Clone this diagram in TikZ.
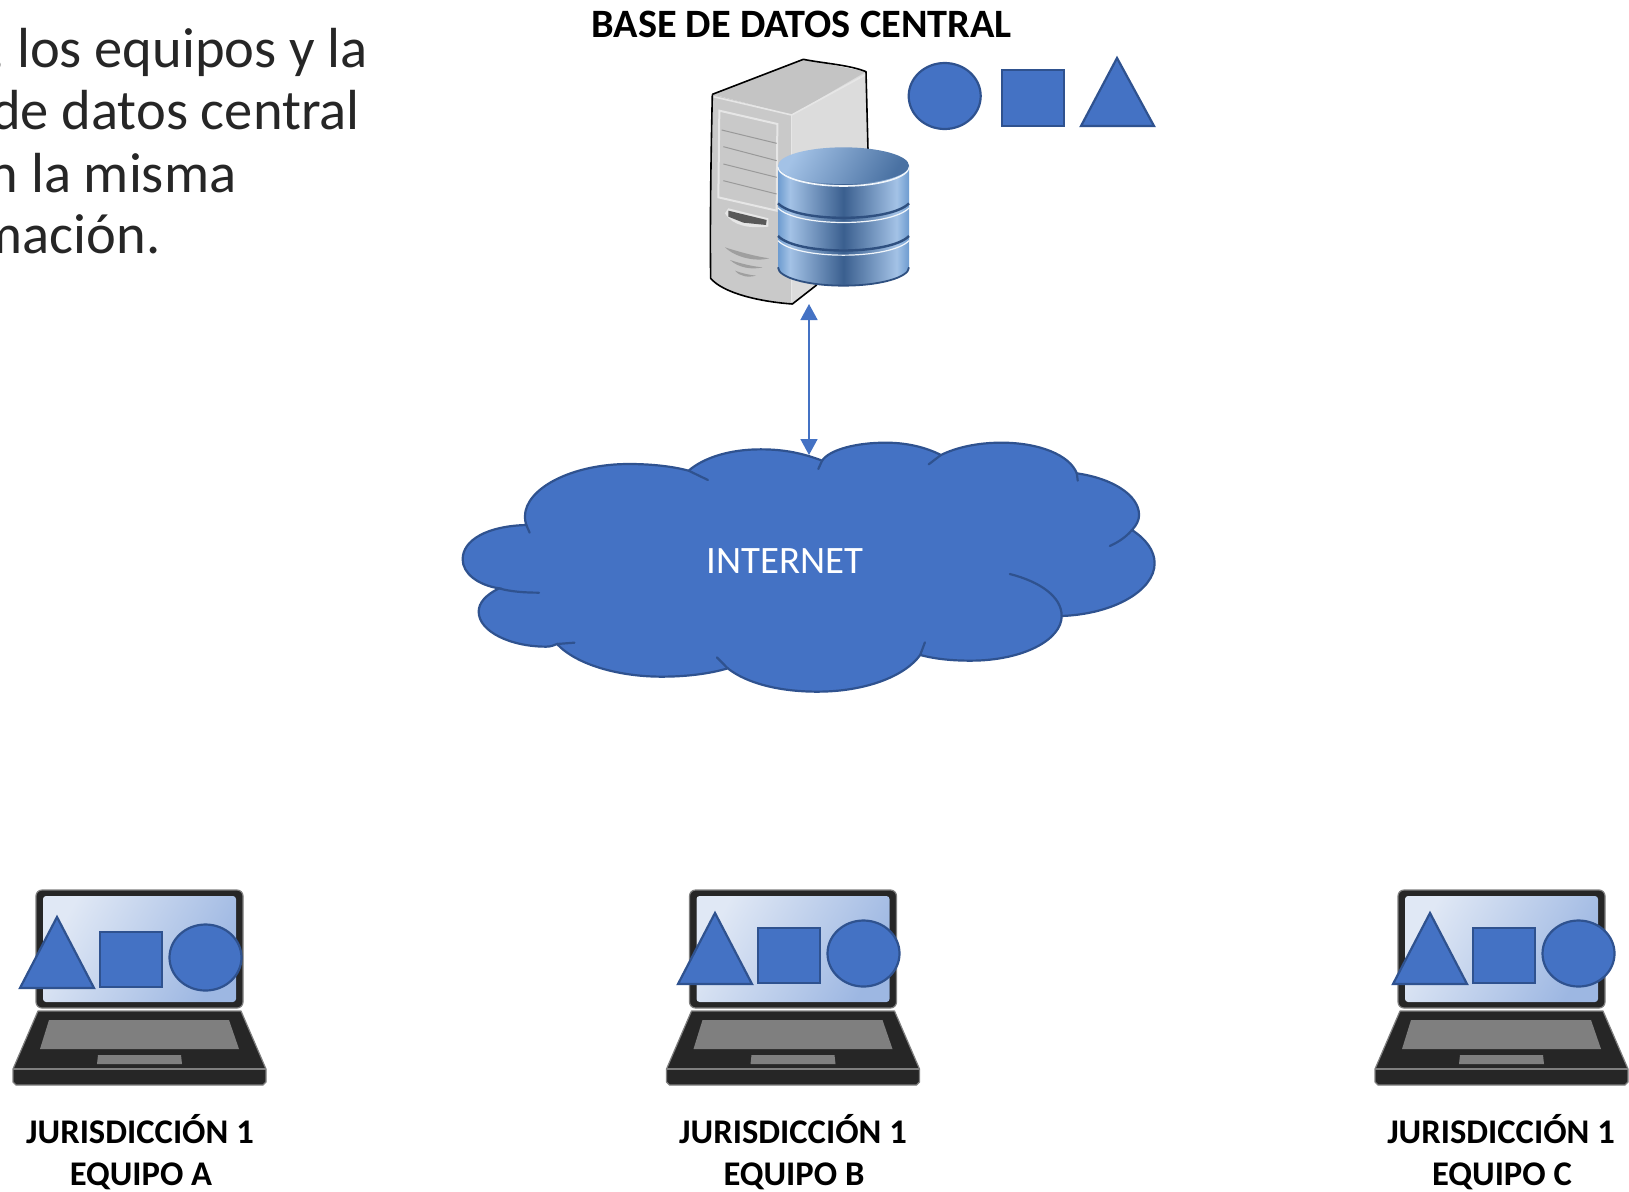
\documentclass[tikz,border=0pt]{standalone}
\usepackage{fontspec}
\setmainfont{Carlito}
\usetikzlibrary{arrows.meta}
\definecolor{shapefill}{HTML}{4472C4}
\definecolor{shapeline}{HTML}{2F528F}
\definecolor{lapdark}{HTML}{262626}
\definecolor{lapgray}{HTML}{7F7F7F}
\definecolor{srvfront}{HTML}{C9C9C9}
\definecolor{srvside}{HTML}{DCDCDC}
\definecolor{srvtop}{HTML}{C4C4C4}
\definecolor{srvlight}{HTML}{E6E6E6}
\definecolor{cylA}{HTML}{6E9CD0}
\definecolor{cylB}{HTML}{A3C2E6}
\definecolor{cylC}{HTML}{3A5F8F}
\definecolor{cylband}{HTML}{2F5080}
\definecolor{scrA}{HTML}{E0E8F5}
\definecolor{scrB}{HTML}{9DB7E2}
\pgfdeclarehorizontalshading{cylbody}{100bp}{
  color(0bp)=(cylA); color(25bp)=(cylA); color(29.5bp)=(cylB);
  color(50bp)=(cylC); color(70.3bp)=(cylB); color(75bp)=(cylA); color(100bp)=(cylA)}
\tikzset{
  flat/.style={fill=shapefill,draw=shapeline,line width=2.2pt,line join=miter},
  title/.style={font=\fontsize{40.3}{40.3}\selectfont\bfseries,inner sep=0pt,anchor=base},
  label/.style={font=\fontsize{34.6}{34.6}\selectfont\bfseries,inner sep=0pt,anchor=base},
  bigtext/.style={font=\fontsize{56.5}{56.5}\selectfont,inner sep=0pt,anchor=base west,text=black!85},
  cloudline/.style={draw=shapeline,line width=2.2pt},
  srvline/.style={draw=black,line width=1.6pt,line join=round},
  link/.style={draw=shapefill,line width=1.5pt,{Triangle[length=16pt,width=17pt]}-{Triangle[length=16pt,width=17pt]}}
}
\newcommand{\threeshapes}[2]{%
  \begin{scope}[shift={(#1,#2)}]
    \draw[flat] (57,917) -- (94,988) -- (20,988) -- cycle;
    \draw[flat] (100,932) rectangle (162,987);
    \draw[flat] (205.5,957.5) ellipse [x radius=36,y radius=33];
  \end{scope}}
\newcommand{\laptopicon}[1]{%
  \begin{scope}[shift={(#1,0)}]
    \fill[lapdark,draw=lapgray,line width=1.2pt,rounded corners=6pt] (36,890) rectangle (243,1008);
    \fill[left color=scrA,right color=scrB,shading angle=60,rounded corners=3pt] (43,896) rectangle (236,1002);
    \fill[lapdark,draw=lapgray,line width=1.2pt,line join=round] (38,1011) -- (241,1011) -- (266,1069) -- (266,1082) -- (263,1085) -- (16,1085) -- (13,1082) -- (13,1069) -- cycle;
    \draw[lapgray,line width=1.2pt] (13,1069) -- (266,1069);
    \fill[lapgray] (49,1020) -- (229,1020) -- (239,1049) -- (40,1049) -- cycle;
    \fill[lapgray] (98,1055) -- (181,1055) -- (182,1064) -- (97,1064) -- cycle;
  \end{scope}}
\begin{document}
\begin{tikzpicture}[x=1pt,y=-1pt]
\useasboundingbox (0,0) rectangle (1629,1191);
\clip (0,0) rectangle (1629,1191);

% text at the upper left, cut by the page edge
\node[bigtext] (line1) at (-10,67) {, los equipos y la};
\node[bigtext] (line2) at (-9,129) {de datos central};
\node[bigtext] (line3) at (-11.5,192) {n la misma};
\node[bigtext] (line4) at (-22.5,253) {mación.};

\node[title] (dbtitle) at (801.5,37) {BASE DE DATOS CENTRAL};

% server
\begin{scope}[shift={(680,0)},scale=1/3]
  \fill[srvside] (370,178) -- (558,215) -- (564,450) -- (564,700) -- (410,855) -- (337,912) -- (335,345) -- cycle;
  \fill[srvfront] (97,283) -- (335,345) -- (337,912) .. controls (240,905) and (130,880) .. (92,835) -- (92,600) -- cycle;
  \fill[srvtop] (97,283) -- (370,178) -- (558,215) -- (335,345) -- cycle;
  \draw[srvlight,line width=1.6pt] (100,290) -- (335,345) -- (555,225);
  \draw[srvlight,line width=1.6pt] (335,345) -- (335,905);
  \fill[srvfront,draw=srvlight,line width=2pt] (118,332) -- (292,372) -- (290,632) -- (115,592) -- cycle;
  \draw[gray!80,line width=1pt] (125,390) -- (290,430) (130,440) -- (290,482) (130,492) -- (290,532) (130,542) -- (290,582);
  \fill[srvlight] (135,640) .. controls (160,680) and (210,685) .. (265,680) -- (265,655) -- (145,625) -- cycle;
  \fill[black!65] (145,632) -- (260,660) -- (258,675) -- (190,668) -- (145,650) -- cycle;
  \fill[gray!75] (135,742) .. controls (175,755) and (230,770) .. (268,775) .. controls (230,785) and (170,775) .. (135,742) -- cycle;
  \fill[gray!75] (150,780) .. controls (180,790) and (220,800) .. (248,802) .. controls (215,810) and (175,803) .. (150,780) -- cycle;
  \fill[gray!75] (165,812) .. controls (185,820) and (210,825) .. (228,827) .. controls (205,833) and (180,830) .. (165,812) -- cycle;
  \draw[srvline] (97,283) -- (370,178) .. controls (430,190) and (510,195) .. (558,215) -- (564,450);
  \draw[srvline] (97,283) .. controls (92,500) and (90,700) .. (92,835) .. controls (130,880) and (240,905) .. (337,912) -- (410,855);
  % database cylinder
  \shade[shading=cylbody] (294,497) -- (294,800) arc [start angle=180,end angle=0,x radius=196.5,y radius=58] -- (687,497) -- cycle;
  \draw[white!85!cylB,line width=1.2pt] (294,624) .. controls (350,682) and (630,682) .. (687,624);
  \draw[white!85!cylB,line width=1.2pt] (294,722) .. controls (350,780) and (630,780) .. (687,722);
  \draw[cylband,line width=2.4pt] (294,610) .. controls (350,668) and (630,668) .. (687,610);
  \draw[cylband,line width=2.4pt] (294,708) .. controls (350,766) and (630,766) .. (687,708);
  \draw[cylband,line width=1.8pt] (294,802) arc [start angle=180,end angle=0,x radius=196.5,y radius=55];
  \draw[white!85!cylB,line width=1.6pt] (294,500) arc [start angle=180,end angle=0,x radius=196.5,y radius=58];
  \shade[left color=cylB,right color=cylC!70!cylA,shading angle=60] (490.5,497) ellipse [x radius=196.5,y radius=55];
\end{scope}

% shapes beside the server
\draw[flat] (944.7,96) ellipse [x radius=36,y radius=33];
\draw[flat] (1002,70) rectangle (1064,126);
\draw[flat] (1117,58) -- (1154,126) -- (1081,126) -- cycle;

% cloud
\begin{scope}[shift={(440,420)},xscale=.4717,yscale=1/3]
  \path[fill=shapefill,cloudline] (183,315) .. controls (100,318) and (48,360) .. (48,418) .. controls (48,460) and (80,495) .. (125,505)
    .. controls (97,525) and (82,548) .. (82,575) .. controls (82,635) and (150,680) .. (225,680) .. controls (235,680) and (242,676) .. (248,672)
    .. controls (290,735) and (380,770) .. (470,770) .. controls (520,770) and (570,762) .. (610,745)
    .. controls (650,790) and (720,815) .. (800,815) .. controls (900,815) and (985,770) .. (1018,705)
    .. controls (1050,717) and (1085,722) .. (1125,722) .. controls (1235,722) and (1318,660) .. (1318,588)
    .. controls (1430,582) and (1515,510) .. (1515,430) .. controls (1515,392) and (1497,358) .. (1467,330)
    .. controls (1477,315) and (1482,300) .. (1482,285) .. controls (1482,225) and (1425,175) .. (1350,160)
    .. controls (1335,105) and (1270,68) .. (1190,68) .. controls (1140,68) and (1095,82) .. (1062,105)
    .. controls (1030,82) and (990,68) .. (945,68) .. controls (880,68) and (825,90) .. (810,122)
    .. controls (770,100) and (730,88) .. (680,88) .. controls (615,88) and (560,112) .. (527,152)
    .. controls (490,138) and (445,132) .. (400,132) .. controls (280,132) and (180,205) .. (180,290) .. controls (180,298) and (181,307) .. (183,315) -- cycle;
  \path[cloudline,line cap=round] (183,315) -- (190,338)
    (125,505) .. controls (150,515) and (180,518) .. (210,518)
    (248,672) -- (285,668)
    (587,712) -- (610,745)
    (1018,705) -- (1028,667)
    (1318,588) .. controls (1318,530) and (1272,485) .. (1208,462)
    (1467,330) .. controls (1455,350) and (1440,365) .. (1420,378)
    (1350,160) -- (1352,182)
    (1062,105) -- (1036,133)
    (810,122) -- (802,147)
    (527,152) -- (568,180);
\end{scope}
\node[text=white,font=\fontsize{38.8}{38.8}\selectfont,inner sep=0pt] (internet) at (785,561) {INTERNET};

% connector
\coordinate (serverend) at (809,304);
\coordinate (cloudend) at (809,455);
\draw[link] (serverend) -- (cloudend);

% laptops
\laptopicon{0}
\threeshapes{0}{0}
\node[label] (ja) at (140,1143) {JURISDICCIÓN 1};
\node[label] (ea) at (141,1185) {EQUIPO A};

\laptopicon{653.5}
\threeshapes{658}{-4}
\node[label] (jb) at (793,1143) {JURISDICCIÓN 1};
\node[label] (eb) at (794,1185) {EQUIPO B};

\laptopicon{1362}
\threeshapes{1373}{-4}
\node[label] (jc) at (1501,1143) {JURISDICCIÓN 1};
\node[label] (ec) at (1502,1185) {EQUIPO C};
\end{tikzpicture}
\end{document}
